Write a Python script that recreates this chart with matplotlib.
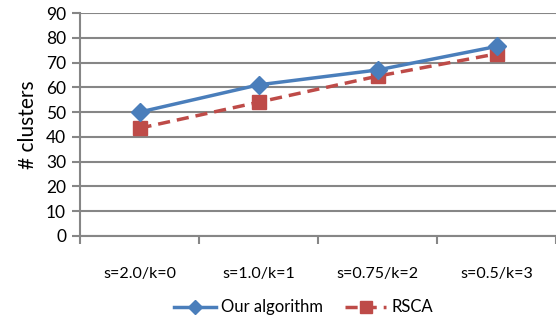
import numpy as np
import matplotlib.pyplot as plt

plt.rcParams['font.family'] = ['Lato', 'DejaVu Sans']

settings = ["s=2.0/k=0", "s=1.0/k=1", "s=0.75/k=2", "s=0.5/k=3"]
ours = [50, 61, 67, 76.5]
rsca = [43.5, 54, 64.5, 73.5]

fig = plt.figure(figsize=(5.56, 3.24), dpi=100)
ax = fig.add_axes([80/556, 88/324, 476/556, 223/324])

x = np.arange(len(settings))
ax.plot(x, ours, color='#4a7ebb', lw=2.5, marker='D', ms=9, label='Our algorithm', zorder=4)
ax.plot(x, rsca, color='#be4b48', lw=2.5, ls=(0, (3.5, 2)), marker='s', ms=10, label='RSCA', zorder=3)

ax.set_xlim(-0.5, len(settings) - 0.5)
ax.set_ylim(0, 90)
ax.set_yticks(range(0, 91, 10))
ax.set_xticks(x)
ax.set_xticklabels(settings)
ax.set_xticks(np.arange(-0.5, len(settings)), minor=True)
ax.tick_params(axis='x', which='major', length=0, pad=22, labelsize=11.5)
ax.tick_params(axis='x', which='minor', length=6, width=1.5, color='#868686')
ax.tick_params(axis='y', length=6, width=1.5, color='#868686', labelsize=12.5, pad=4)
ax.grid(axis='y', color='#868686', lw=1.5)
ax.set_axisbelow(True)
for s in ['top', 'right']:
    ax.spines[s].set_visible(False)
for s in ['left', 'bottom']:
    ax.spines[s].set_color('#868686')
    ax.spines[s].set_linewidth(1.5)
ax.set_ylabel('# clusters', fontsize=15, labelpad=6)

ax.legend(loc='center', bbox_to_anchor=(0.47, -0.32), ncol=2, frameon=False,
          fontsize=12, handlelength=2.5, columnspacing=1.3, handletextpad=0.3,
          markerscale=0.8)

fig.savefig('out.png')
